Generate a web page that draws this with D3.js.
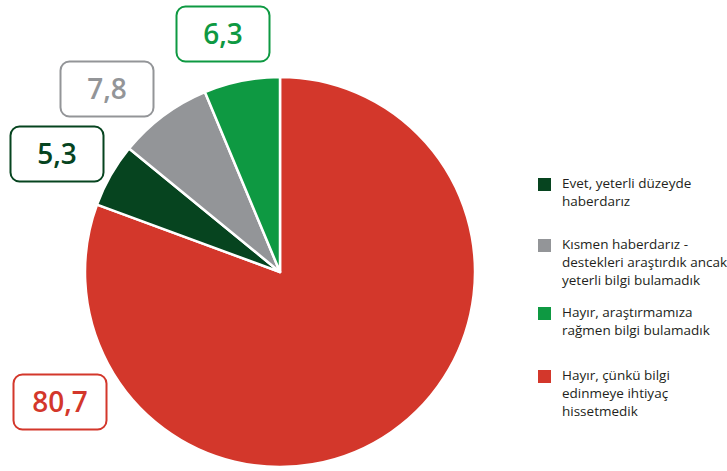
<!DOCTYPE html>
<html><head><meta charset="utf-8">
<script src="https://cdn.jsdelivr.net/npm/d3@7"></script>
<style>body{margin:0;background:#fff}svg{display:block}</style>
</head><body>
<svg id="c" width="727" height="471"></svg>
<script>
const categories = ["Evet, yeterli düzeyde haberdarız", "Kısmen haberdarız - destekleri araştırdık ancak yeterli bilgi bulamadık", "Hayır, araştırmamıza rağmen bilgi bulamadık", "Hayır, çünkü bilgi edinmeye ihtiyaç hissetmedik"];
const values = [5.3, 7.8, 6.3, 80.7];
const valueLabels = ["5,3", "7,8", "6,3", "80,7"];
const colors = ["#06441f", "#939598", "#0e9942", "#d3372b"];
const legendLines = [["Evet, yeterli düzeyde", "haberdarız"], ["Kısmen haberdarız -", "destekleri araştırdık ancak", "yeterli bilgi bulamadık"], ["Hayır, araştırmamıza", "rağmen bilgi bulamadık"], ["Hayır, çünkü bilgi", "edinmeye ihtiyaç", "hissetmedik"]];
const drawOrder = [3, 0, 1, 2];

const svg = d3.select("#c");
const font = "'Open Sans', sans-serif";
const cx = 280, cy = 272, R = 195;

const pie = d3.pie().sort(null).value(i => values[i]);
const arcs = pie(drawOrder);
const arc = d3.arc().innerRadius(0).outerRadius(R);
const g = svg.append("g").attr("transform", `translate(${cx},${cy})`);
g.selectAll("path").data(arcs).join("path")
  .attr("d", arc).attr("fill", d => colors[d.data])
  .attr("stroke", "#fff").attr("stroke-width", 2.5).attr("stroke-linejoin", "round");

// label boxes (centers)
const boxPos = [[57, 154], [107, 89], [223, 34], [60, 402]];
const bw = 93, bh = 55;
values.forEach((v, i) => {
  const [x, y] = boxPos[i];
  svg.append("rect").attr("x", x - bw / 2).attr("y", y - bh / 2).attr("width", bw).attr("height", bh)
    .attr("rx", 9).attr("fill", "#fff").attr("stroke", colors[i]).attr("stroke-width", 2);
  svg.append("text").attr("x", x).attr("y", y + 10).attr("text-anchor", "middle")
    .attr("font-family", font).attr("font-weight", 600).attr("font-size", 28)
    .attr("fill", colors[i]).text(valueLabels[i]);
});

// legend
const legTop = [178, 239, 307, 370];
categories.forEach((c, i) => {
  const lg = svg.append("g");
  lg.append("rect").attr("x", 538).attr("y", legTop[i]).attr("width", 13).attr("height", 13).attr("fill", colors[i]);
  legendLines[i].forEach((t, j) => {
    lg.append("text").attr("x", 562).attr("y", legTop[i] + 10 + j * 18)
      .attr("font-family", font).attr("font-size", 13.5).attr("fill", "#231f20").text(t);
  });
});
</script>
</body></html>
